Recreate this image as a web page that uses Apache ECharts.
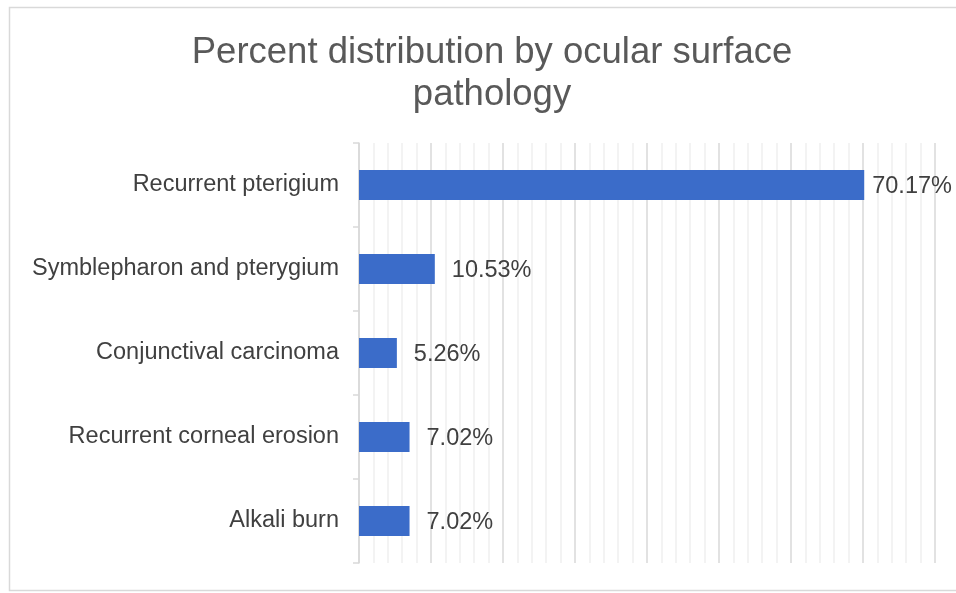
<!DOCTYPE html>
<html>
<head>
<meta charset="utf-8">
<script src="https://cdn.jsdelivr.net/npm/echarts@6/dist/echarts.min.js"></script>
<style>
  html, body { margin: 0; padding: 0; background: #ffffff; }
  #chart { width: 956px; height: 593px; }
</style>
</head>
<body>
<div id="chart"></div>
<script>
// Ocular surface pathologies, listed top to bottom
const categories = [
  'Recurrent pterigium',
  'Symblepharon and pterygium',
  'Conjunctival carcinoma',
  'Recurrent corneal erosion',
  'Alkali burn'
];
// Share of cases, in percent
const percentValues = [70.17, 10.53, 5.26, 7.02, 7.02];

const titleText = 'Percent distribution by ocular surface\npathology';

const chart = echarts.init(document.getElementById('chart'), null, { renderer: 'canvas' });

// The longest bar's label sits closer so it stays inside the frame
const barData = percentValues.map((v, i) => ({
  value: v,
  label: { distance: i === 0 ? 8 : 17 }
}));

chart.setOption({
  backgroundColor: '#ffffff',
  animation: false,
  graphic: [{
    type: 'rect',
    shape: { x: 9.5, y: 7.5, width: 960, height: 583 },
    style: { fill: 'none', stroke: '#d9d9d9', lineWidth: 1.5 },
    silent: true,
    z: -1
  }],
  title: {
    text: titleText,
    left: 487,
    top: 27,
    textAlign: 'center',
    textStyle: {
      fontFamily: 'Liberation Sans, Arial, sans-serif',
      fontSize: 36.5,
      fontWeight: 'normal',
      color: '#595959',
      lineHeight: 42
    }
  },
  grid: { left: 359, top: 143, width: 576, height: 420, containLabel: false },
  xAxis: {
    type: 'value',
    min: 0,
    max: 80,
    interval: 10,
    axisLine: { show: false },
    axisTick: { show: false },
    axisLabel: { show: false },
    splitLine: { show: true, lineStyle: { color: '#d9d9d9', width: 1.5 } },
    minorTick: { show: false, splitNumber: 5 },
    minorSplitLine: { show: true, lineStyle: { color: '#efefef', width: 1.5 } }
  },
  yAxis: {
    type: 'category',
    data: categories,
    inverse: true,
    axisLine: { show: true, lineStyle: { color: '#d9d9d9', width: 1.5 } },
    axisTick: { show: true, length: 6, lineStyle: { color: '#d9d9d9', width: 1.5 } },
    axisLabel: {
      margin: 20,
      fontFamily: 'Liberation Sans, Arial, sans-serif',
      fontSize: 23.5,
      color: '#404040'
    },
    splitLine: { show: false }
  },
  series: [{
    type: 'bar',
    data: barData,
    barWidth: 30,
    itemStyle: { color: '#3b6cc9' },
    label: {
      show: true,
      position: 'right',
      offset: [0, 2],
      formatter: p => p.value.toFixed(2) + '%',
      fontFamily: 'Liberation Sans, Arial, sans-serif',
      fontSize: 23.5,
      color: '#404040'
    }
  }]
});
</script>
</body>
</html>
